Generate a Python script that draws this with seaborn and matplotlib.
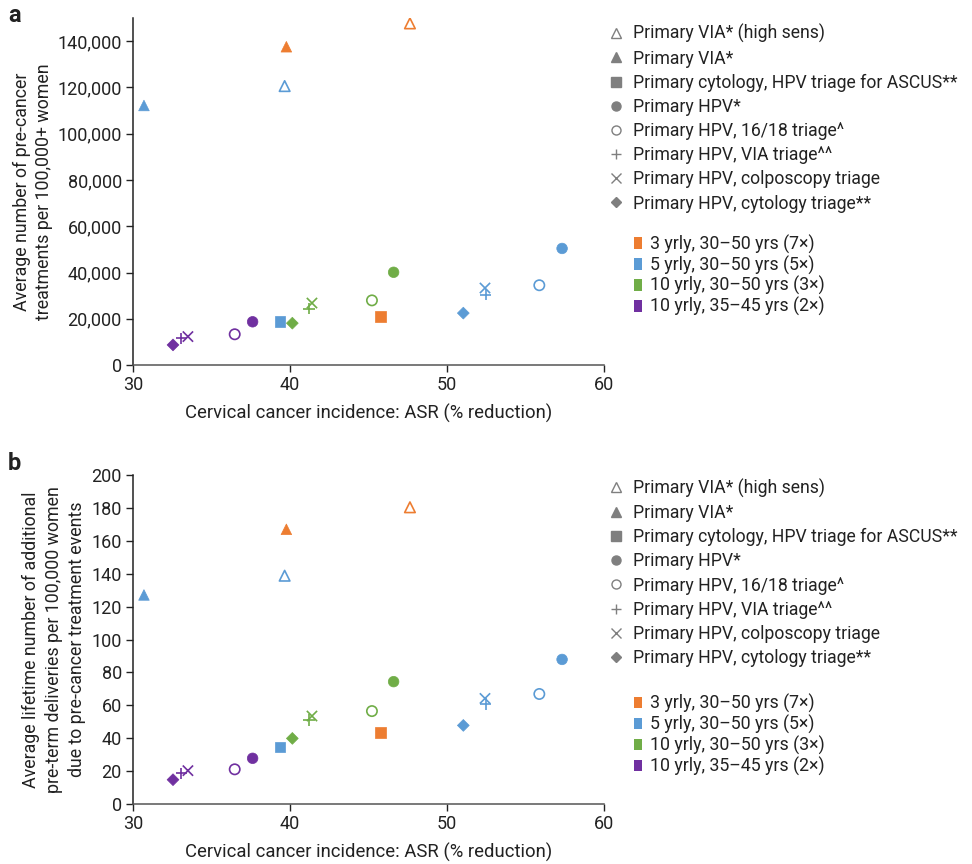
import numpy as np
import pandas as pd
import matplotlib
matplotlib.use("Agg")
import matplotlib.pyplot as plt
from matplotlib.lines import Line2D
from matplotlib.patches import Patch
import seaborn as sns

# ---------------- data ----------------
strategies = [
    "Primary VIA* (high sens)",
    "Primary VIA*",
    "Primary cytology, HPV triage for ASCUS**",
    "Primary HPV*",
    "Primary HPV, 16/18 triage^",
    "Primary HPV, VIA triage^^",
    "Primary HPV, colposcopy triage",
    "Primary HPV, cytology triage**",
]
schedules = [
    "3 yrly, 30\u201350 yrs (7\u00d7)",
    "5 yrly, 30\u201350 yrs (5\u00d7)",
    "10 yrly, 30\u201350 yrs (3\u00d7)",
    "10 yrly, 35\u201345 yrs (2\u00d7)",
]
point_strategy = [0, 0, 1, 1, 2, 2, 3, 3, 3, 4, 4, 4, 5, 5, 5, 6, 6, 6, 7, 7, 7]
point_schedule = [0, 1, 0, 1, 0, 1, 1, 2, 3, 1, 2, 3, 1, 2, 3, 1, 2, 3, 1, 2, 3]
incidence_reduction = [47.64, 39.66, 39.77, 30.70, 45.77, 39.36, 57.33, 46.60, 37.62,
                       55.88, 45.22, 36.48, 52.46, 41.21, 33.08, 52.42, 41.40, 33.50,
                       51.04, 40.15, 32.55]
treatments = [147700, 120600, 137600, 112200, 21000, 18700, 50400, 40100, 18700,
              34500, 27950, 13300, 30400, 24300, 11600, 33300, 26800, 12300,
              22450, 18100, 8700]
preterm = [180.4, 138.8, 167.0, 127.1, 43.4, 34.7, 87.9, 74.4, 27.8,
           66.9, 56.5, 21.1, 60.8, 51.1, 18.6, 64.2, 53.5, 20.3,
           47.8, 39.9, 14.8]
x_ticks = [30, 40, 50, 60]
y_ticks_a = [0, 20000, 40000, 60000, 80000, 100000, 120000, 140000]
y_ticks_b = [0, 20, 40, 60, 80, 100, 120, 140, 160, 180, 200]

# ---------------- styles ----------------
sched_colors = ["#ED7D31", "#5B9BD5", "#70AD47", "#7030A0"]
strat_markers = ["^", "^", "s", "o", "o", "+", "x", "D"]
strat_open = [True, False, False, False, True, False, False, False]
strat_size = [58, 58, 58, 58, 55, 65, 55, 36]
legend_gray = "#7f7f7f"

df = pd.DataFrame({
    "strategy": [strategies[i] for i in point_strategy],
    "schedule": [schedules[i] for i in point_schedule],
    "x": incidence_reduction,
    "treat": treatments,
    "preterm": preterm,
})

sns.set_theme(style="ticks")
plt.rcParams["font.family"] = ["Roboto", "DejaVu Sans"]
plt.rcParams["axes.edgecolor"] = "#222222"
plt.rcParams["xtick.color"] = "#222222"
plt.rcParams["ytick.color"] = "#222222"
plt.rcParams["text.color"] = "#222222"
plt.rcParams["axes.labelcolor"] = "#222222"

fig = plt.figure(figsize=(9.72, 8.64), dpi=100)
ax_a = fig.add_axes([0.1368, 0.5775, 0.4846, 0.4016])
ax_b = fig.add_axes([0.1368, 0.0694, 0.4846, 0.3808])

palette = dict(zip(schedules, sched_colors))


def draw(ax, ycol):
    for si, strat in enumerate(strategies):
        sub = df[df["strategy"] == strat]
        if sub.empty:
            continue
        m = strat_markers[si]
        sns.scatterplot(data=sub, x="x", y=ycol, hue="schedule", palette=palette,
                        marker=m, s=strat_size[si], ax=ax, legend=False,
                        linewidth=1.2, zorder=3)
        coll = ax.collections[-1]
        cols = [matplotlib.colors.to_rgba(palette[s]) for s in sub["schedule"]]
        if m in ["+", "x"]:
            coll.set_edgecolor(cols)
        elif strat_open[si]:
            coll.set_facecolor("none")
            coll.set_edgecolor(cols)
        else:
            coll.set_facecolor(cols)
            coll.set_edgecolor(cols)
            coll.set_linewidth(0.5)


draw(ax_a, "treat")
draw(ax_b, "preterm")

for ax in (ax_a, ax_b):
    ax.set_xlim(30, 60)
    ax.set_xticks(x_ticks)
    ax.set_xticklabels([str(t) for t in x_ticks])
    sns.despine(ax=ax)
    ax.tick_params(axis="both", labelsize=13, length=5, width=1, direction="out", pad=3)
    ax.spines["left"].set_linewidth(1.1)
    ax.spines["bottom"].set_linewidth(1.1)
    ax.spines["bottom"].set_color("#555555")
    ax.set_xlabel("Cervical cancer incidence: ASR (% reduction)", fontsize=13.3, labelpad=7)

ax_a.set_ylim(0, 150000)
ax_a.set_yticks(y_ticks_a)
ax_a.set_yticklabels([f"{t:,}" for t in y_ticks_a])
ax_a.set_ylabel("Average number of pre-cancer\ntreatments per 100,000+ women",
                fontsize=12.8, labelpad=3, linespacing=1.33)

ax_b.set_ylim(0, 200)
ax_b.set_yticks(y_ticks_b)
ax_b.set_yticklabels([str(t) for t in y_ticks_b])
ax_b.set_ylabel("Average lifetime number of additional\npre-term deliveries per 100,000 women\ndue to pre-cancer treatment events",
                fontsize=12.8, labelpad=4, linespacing=1.36)

fig.text(0.008, 0.995, "a", fontsize=17, fontweight="bold", va="top", ha="left")
fig.text(0.008, 0.477, "b", fontsize=17, fontweight="bold", va="top", ha="left")


def add_legends(top1, top2):
    handles = []
    for si, strat in enumerate(strategies):
        m = strat_markers[si]
        if m in ["+", "x"]:
            h = Line2D([], [], linestyle="none", marker=m, color=legend_gray, markersize=7, markeredgewidth=1)
        elif strat_open[si]:
            h = Line2D([], [], linestyle="none", marker=m, markerfacecolor="none",
                       markeredgecolor=legend_gray, markersize=6.5, markeredgewidth=1)
        else:
            h = Line2D([], [], linestyle="none", marker=m, color=legend_gray,
                       markersize=6.5 if m != "D" else 5)
        handles.append(h)
    fig.legend(handles, strategies, loc="upper left", bbox_to_anchor=(0.626, top1),
               frameon=False, fontsize=12.7, handlelength=0.8, handletextpad=0.6,
               labelspacing=0.35, borderaxespad=0, borderpad=0)
    phandles = [Patch(facecolor=c, edgecolor="none") for c in sched_colors]
    fig.legend(phandles, schedules, loc="upper left", bbox_to_anchor=(0.652, top2),
               frameon=False, fontsize=12.8, handlelength=0.45, handleheight=0.6,
               handletextpad=0.45, labelspacing=0.1, borderaxespad=0, borderpad=0)


add_legends(0.972, 0.7287)
add_legends(0.446, 0.1967)

fig.savefig("out.png", dpi=100)
